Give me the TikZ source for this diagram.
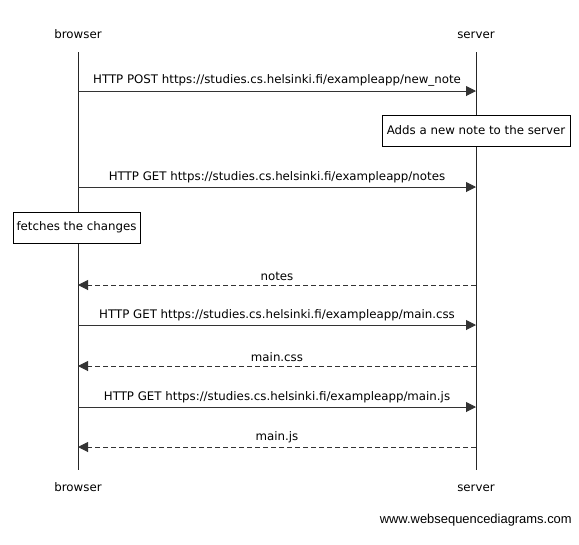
\documentclass[tikz,border=0pt]{standalone}
\usepackage{fontspec}
\setmainfont{DejaVu Sans}
\newfontfamily\wmfont{Liberation Sans}
\usetikzlibrary{arrows.meta}
\tikzset{
  lifeline/.style={draw=black!85, line width=0.75pt},
  msg/.style={draw=black!80, line width=0.75pt, -{Triangle[length=7.5pt,width=7.5pt]}},
  reply/.style={msg, dash pattern=on 3.75pt off 2.25pt},
  lbl/.style={font=\fontsize{8.85pt}{10pt}\selectfont, inner sep=0pt, anchor=base},
  actor/.style={font=\fontsize{8.85pt}{10pt}\selectfont, inner sep=0pt, anchor=base},
  notebox/.style={draw=black, line width=0.75pt, fill=white, font=\fontsize{8.85pt}{10pt}\selectfont, inner sep=0pt, minimum height=23.25pt},
}
\begin{document}
\begin{tikzpicture}[x=0.75pt,y=-0.75pt]
\useasboundingbox (0,0) rectangle (579,544);
% actors
\node[actor] (bt) at (78,38) {browser};
\node[actor] (st) at (476,38) {server};
\node[actor] (bb) at (78,491) {browser};
\node[actor] (sb) at (476,491) {server};
\coordinate (b0) at (78,52); \coordinate (b1) at (78,470);
\coordinate (s0) at (476,52); \coordinate (s1) at (476,470);
\draw[lifeline] (b0) -- (b1);
\draw[lifeline] (s0) -- (s1);
% message end points
\foreach \n/\y in {1/91,2/187,3/285,4/325,5/366,6/407,7/447}{
  \coordinate (b\n m) at (78,\y);
  \coordinate (s\n m) at (476,\y);
}
\draw[msg] (b1m) -- (s1m) node[lbl, pos=0.5, above=3pt] (l1) {HTTP POST https://studies.cs.helsinki.fi/exampleapp/new\_note};
\node[notebox, minimum width=141pt] (n1) at (476,130.5) {Adds a new note to the server};
\draw[msg] (b2m) -- (s2m) node[lbl, pos=0.5, above=3pt] (l2) {HTTP GET https://studies.cs.helsinki.fi/exampleapp/notes};
\node[notebox, minimum width=95.25pt] (n2) at (76.5,227.5) {fetches the changes};
\draw[reply] (s3m) -- (b3m) node[lbl, pos=0.5, above=3pt] (l3) {notes};
\draw[msg] (b4m) -- (s4m) node[lbl, pos=0.5, above=3pt] (l4) {HTTP GET https://studies.cs.helsinki.fi/exampleapp/main.css};
\draw[reply] (s5m) -- (b5m) node[lbl, pos=0.5, above=3pt] (l5) {main.css};
\draw[msg] (b6m) -- (s6m) node[lbl, pos=0.5, above=3pt] (l6) {HTTP GET https://studies.cs.helsinki.fi/exampleapp/main.js};
\draw[reply] (s7m) -- (b7m) node[lbl, pos=0.5, above=3pt] (l7) {main.js};
\node[font=\wmfont\fontsize{9.7pt}{11pt}\selectfont, inner sep=0pt, anchor=base east] (wm) at (572,523) {www.websequencediagrams.com};
\end{tikzpicture}
\end{document}
